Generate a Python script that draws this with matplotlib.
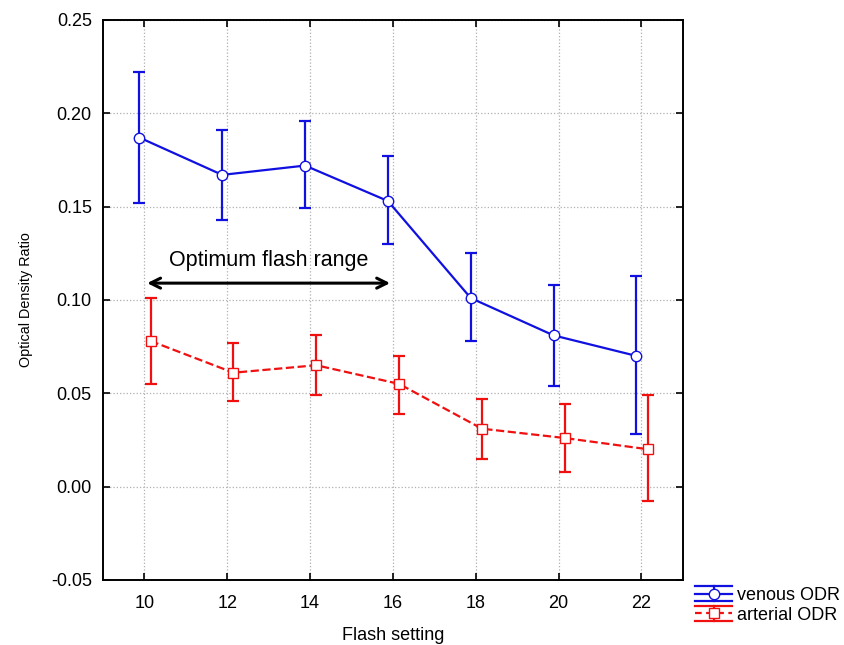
import matplotlib
matplotlib.use("Agg")
import matplotlib.pyplot as plt
from matplotlib.lines import Line2D
from matplotlib.legend_handler import HandlerBase
import numpy as np

plt.rcParams['font.family'] = ['Liberation Sans', 'DejaVu Sans']

flash = np.array([10, 12, 14, 16, 18, 20, 22])

# venous ODR: mean, lower and upper error bar ends
venous = np.array([0.187, 0.167, 0.172, 0.153, 0.101, 0.081, 0.070])
venous_lo = np.array([0.152, 0.143, 0.149, 0.130, 0.078, 0.054, 0.028])
venous_hi = np.array([0.222, 0.191, 0.196, 0.177, 0.125, 0.108, 0.113])

# arterial ODR
arterial = np.array([0.078, 0.061, 0.065, 0.055, 0.031, 0.026, 0.020])
arterial_lo = np.array([0.055, 0.046, 0.049, 0.039, 0.015, 0.008, -0.008])
arterial_hi = np.array([0.101, 0.077, 0.081, 0.070, 0.047, 0.044, 0.049])

BLUE = '#1010e0'
RED = '#f01010'


class ErrLegendHandler(HandlerBase):
    # statistica-like legend key: whisker lines above/below, line + marker
    def __init__(self, color, dashed, marker):
        super().__init__()
        self.color, self.dashed, self.marker = color, dashed, marker

    def create_artists(self, legend, orig, xd, yd, w, h, fs, trans):
        cy = yd + h / 2
        top, bot = yd + h * 1.1, yd - h * 0.1
        kw = dict(color=self.color, lw=1.6, transform=trans)
        arts = [Line2D([xd, xd + w], [top, top], **kw),
                Line2D([xd, xd + w], [bot, bot], **kw),
                Line2D([xd + w / 2, xd + w / 2], [bot, top], **kw)]
        mid = Line2D([xd, xd + w], [cy, cy], **kw)
        if self.dashed:
            mid.set_dashes((3, 2))
        arts.append(mid)
        arts.append(Line2D([xd + w / 2], [cy], color=self.color, marker=self.marker,
                           markersize=7.5, markerfacecolor='white',
                           markeredgecolor=self.color, transform=trans))
        return arts


fig = plt.figure(figsize=(8.44, 6.45), dpi=100)
ax = fig.add_axes([0.122, 0.101, 0.687, 0.868])

ven = ax.errorbar(flash - 0.12, venous,
                  yerr=[venous - venous_lo, venous_hi - venous],
                  color=BLUE, lw=1.6, marker='o', markersize=7.5,
                  markerfacecolor='white', markeredgecolor=BLUE,
                  capsize=4, elinewidth=1.6, capthick=1.6,
                  label='venous ODR', zorder=3)
art = ax.errorbar(flash + 0.15, arterial,
                  yerr=[arterial - arterial_lo, arterial_hi - arterial],
                  color=RED, lw=1.6, ls='--', marker='s', markersize=7.5,
                  markerfacecolor='white', markeredgecolor=RED,
                  capsize=4, elinewidth=1.6, capthick=1.6,
                  label='arterial ODR', zorder=3)

# Optimum flash range annotation
ax.annotate('', xy=(16, 0.109), xytext=(10, 0.109),
            arrowprops=dict(arrowstyle='<->', color='black', lw=2.2,
                            mutation_scale=18))
ax.text(13, 0.1155, 'Optimum flash range', ha='center', va='bottom',
        fontsize=15.5)

ax.set_xlim(9, 23)
ax.set_ylim(-0.05, 0.25)
ax.set_xticks(flash)
ax.set_yticks(np.arange(-0.05, 0.251, 0.05))
ax.set_yticklabels([f'{v:.2f}' for v in np.arange(-0.05, 0.251, 0.05)])
ax.tick_params(direction='in', top=True, right=True, length=5, width=1.2,
               labelsize=13)
ax.tick_params(axis='y', pad=8)
ax.tick_params(axis='x', pad=11)
ax.grid(True, ls=':', color='#b0b0b0', lw=0.9)
for s in ax.spines.values():
    s.set_linewidth(1.4)

ax.set_xlabel('Flash setting', fontsize=13, labelpad=11)
ax.set_ylabel('Optical Density Ratio', fontsize=10.4, labelpad=13)

fig.legend(handles=[ven, art], loc='upper left',
           bbox_to_anchor=(0.8235, 0.090), frameon=False, fontsize=13,
           handlelength=2.05, handletextpad=0.3, labelspacing=0.15,
           borderaxespad=0, borderpad=0,
           handler_map={ven: ErrLegendHandler(BLUE, False, 'o'),
                        art: ErrLegendHandler(RED, True, 's')})

fig.savefig('out.png', dpi=100)
